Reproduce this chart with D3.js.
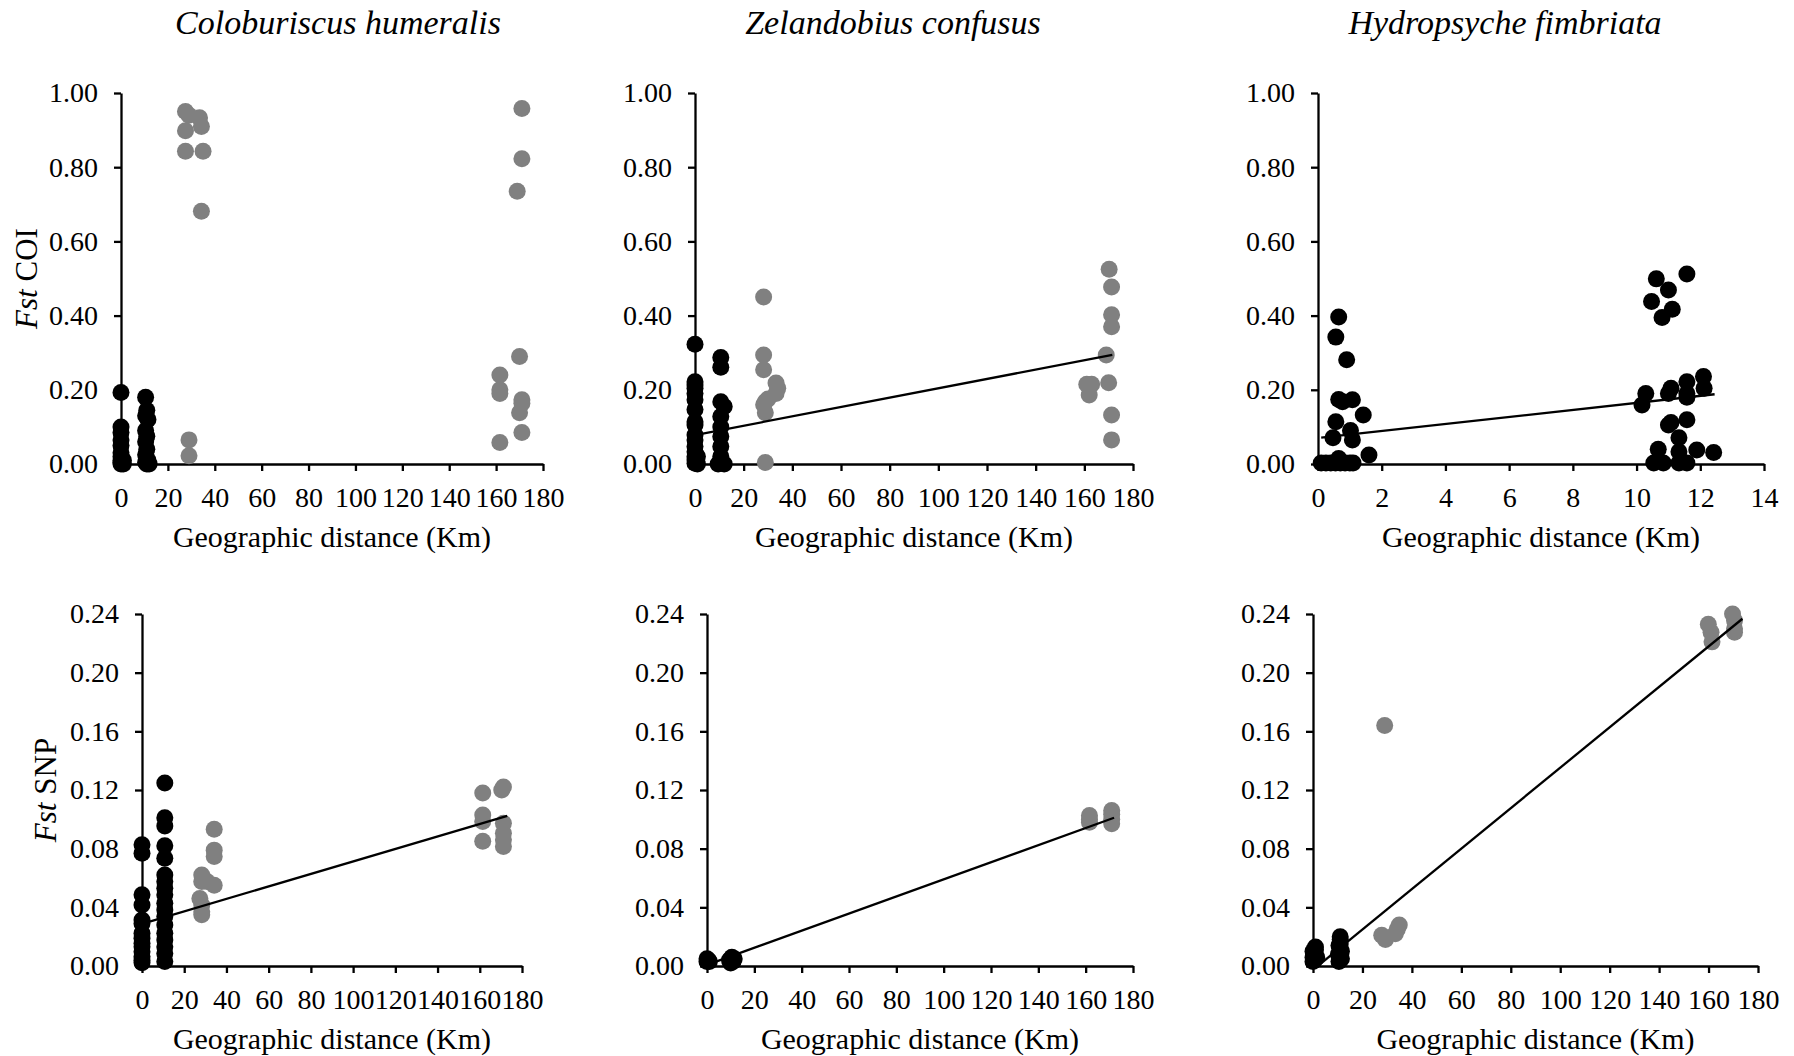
<!DOCTYPE html>
<html>
<head>
<meta charset="utf-8">
<script src="https://cdn.jsdelivr.net/npm/d3@7"></script>
<style>
  body { margin: 0; background: #fff; }
  svg { display: block; }
  text { font-family: "Liberation Serif", "Times New Roman", serif; fill: #000; }
</style>
</head>
<body>
<svg id="chart" width="1794" height="1056"></svg>
<script>
// ---- data ----
const species = ["Coloburiscus humeralis", "Zelandobius confusus", "Hydropsyche fimbriata"];
const xTicksKm = [0, 20, 40, 60, 80, 100, 120, 140, 160, 180];
const xTicksHyd = [0, 2, 4, 6, 8, 10, 12, 14];
const yTicksCOI = [0, 0.2, 0.4, 0.6, 0.8, 1.0];
const yTicksSNP = [0, 0.04, 0.08, 0.12, 0.16, 0.20, 0.24];

// black = within, grey = between  ([distance, Fst])
const coloCoiBlack = [[0,0.193],[0,0.10],[0,0.085],[0,0.065],[0,0.05],[0,0.03],[0,0.02],[0,0.01],[0,0.005],[0,0.0],[1,0.0],[1,0.01],
  [10.5,0.18],[11,0.145],[10.5,0.13],[11.5,0.12],[10.5,0.09],[11,0.075],[10.5,0.06],[11,0.04],[10.5,0.025],[11.5,0.01],[10.5,0.005],[11,0.0],[12,0.0]];
const coloCoiGrey = [[27.5,0.95],[29,0.94],[33.5,0.933],[34.3,0.91],[27.5,0.898],[27.5,0.843],[35,0.843],[34.3,0.681],[29,0.065],[29,0.022],
  [171,0.958],[171,0.823],[169,0.735],[170,0.29],[161.6,0.24],[161.6,0.2],[161.6,0.19],[171,0.173],[171,0.164],[170,0.138],[171,0.085],[161.6,0.058]];

const zelCoiBlack = [[0,0.323],[0,0.222],[0,0.213],[0,0.204],[0,0.19],[0,0.173],[0,0.147],[0,0.114],[0,0.105],[0,0.078],[0,0.065],[0,0.047],[0,0.033],[0,0.02],[0,0.011],[0,0.002],[1,0.0],[1,0.02],
  [10.6,0.287],[10.6,0.261],[10.6,0.168],[12,0.155],[10.6,0.128],[10.6,0.1],[10.6,0.074],[10.6,0.047],[10.6,0.02],[10.6,0.006],[12,0.0],[9.5,0.0]];
const zelCoiGrey = [[28.2,0.45],[28.2,0.294],[28.2,0.254],[28.9,0.168],[28.2,0.16],[30,0.175],[28.9,0.138],[33.3,0.218],[34,0.204],[33.3,0.19],[28.9,0.004],
  [170.2,0.525],[171.2,0.477],[171.2,0.402],[171.2,0.37],[169,0.294],[170,0.219],[171.2,0.132],[171.2,0.065],[161,0.215],[163,0.215],[162,0.186]];

const hydCoiBlack = [[0.65,0.396],[0.56,0.342],[0.9,0.281],[0.65,0.174],[0.77,0.168],[1.08,0.173],[1.42,0.132],[0.56,0.114],[0.47,0.071],[1.02,0.09],[1.08,0.065],[1.6,0.024],
  [0.1,0.003],[0.25,0.003],[0.4,0.003],[0.55,0.003],[0.7,0.003],[0.85,0.003],[1.0,0.003],[1.1,0.003],[0.65,0.015],
  [11.58,0.512],[10.62,0.499],[11.0,0.469],[10.47,0.438],[11.12,0.417],[10.8,0.395],[12.1,0.236],[11.58,0.222],[11.08,0.204],[10.29,0.19],[11.0,0.19],[11.58,0.19],[11.58,0.18],[12.12,0.204],
  [10.17,0.159],[11.08,0.112],[11.0,0.105],[11.58,0.119],[11.33,0.071],[10.68,0.04],[11.33,0.033],[11.89,0.038],[12.42,0.031],[10.54,0.003],[10.84,0.003],[11.33,0.003],[11.58,0.003]];
const hydCoiGrey = [];

const coloSnpBlack = [[0,0.0826],[0,0.0769],[0,0.0485],[0,0.0416],[0,0.0314],[0,0.029],[0,0.0223],[0,0.019],[0,0.0155],[0,0.0132],[0,0.0098],[0,0.0064],[0,0.004],[0,0.0023],
  [10.8,0.1247],[10.8,0.101],[10.8,0.0955],[10.8,0.082],[10.8,0.0735],[10.8,0.062],[10.8,0.0576],[10.8,0.053],[10.8,0.0485],[10.8,0.0428],[10.8,0.0382],[10.8,0.0337],[10.8,0.028],[10.8,0.0223],[10.8,0.0177],[10.8,0.0132],[10.8,0.0086],[10.8,0.003]];
const coloSnpGrey = [[28.3,0.062],[28.3,0.0576],[27.4,0.046],[28.3,0.0416],[28.3,0.037],[28.3,0.035],[34.2,0.0933],[34.2,0.079],[34.2,0.0746],[34.2,0.055],[30.8,0.0576],
  [161.4,0.118],[161.4,0.103],[161.4,0.0985],[161.4,0.085],[171.2,0.122],[170.4,0.12],[171.2,0.0974],[171.2,0.0905],[171.2,0.086],[171.2,0.0815]];

const zelSnpBlack = [[0,0.003],[0,0.005],[0.5,0.004],[1,0.003],[9.5,0.004],[10.5,0.006],[11,0.003],[11.5,0.005],[10,0.002]];
const zelSnpGrey = [[161.6,0.1026],[161.6,0.098],[161.6,0.1],[171,0.106],[171,0.1035],[171,0.1],[171,0.097]];

const hydSnpBlack = [[0,0.003],[0,0.006],[0.5,0.008],[1,0.011],[1,0.013],[0.5,0.004],[1.5,0.006],[0,0.01],
  [10.5,0.003],[11,0.006],[11,0.009],[11,0.012],[11,0.015],[11,0.018],[11,0.02],[10.5,0.014],[11.5,0.01],[11.5,0.005],[10.3,0.008]];
const hydSnpGrey = [[29,0.164],[27.8,0.021],[29.3,0.018],[33.3,0.022],[34.9,0.028],[34.1,0.025],
  [159.9,0.233],[161,0.2275],[161.4,0.221],[169.7,0.24],[170.5,0.2355],[170.5,0.23],[170.5,0.2275]];

// trend lines: [intercept, slope, xStart, xEnd]
const zelCoiTrend = [0.078, 0.00126, 0, 171.5];
const hydCoiTrend = [0.07, 0.00948, 0.1, 12.45];
const coloSnpTrend = [0.0287, 0.000426, 0, 173];
const zelSnpTrend = [0.0008, 0.000583, 0, 172];
const hydSnpTrend = [-0.0026, 0.001378, 2, 173.7];

// ---- layout ----
const panels = [
  { x0: 121, x1: 543, y0: 464, y1: 93, xMax: 180, xt: xTicksKm, yMax: 1, yt: yTicksCOI, black: coloCoiBlack, grey: coloCoiGrey, trend: null, title: species[0], ylab: "COI", ylx: 37 },
  { x0: 695, x1: 1133, y0: 464, y1: 93, xMax: 180, xt: xTicksKm, yMax: 1, yt: yTicksCOI, black: zelCoiBlack, grey: zelCoiGrey, trend: zelCoiTrend, title: species[1] },
  { x0: 1318, x1: 1764, y0: 464, y1: 93, xMax: 14, xt: xTicksHyd, yMax: 1, yt: yTicksCOI, black: hydCoiBlack, grey: hydCoiGrey, trend: hydCoiTrend, title: species[2] },
  { x0: 142, x1: 522, y0: 966, y1: 614, xMax: 180, xt: xTicksKm, yMax: 0.24, yt: yTicksSNP, black: coloSnpBlack, grey: coloSnpGrey, trend: coloSnpTrend, ylab: "SNP", ylx: 56 },
  { x0: 707, x1: 1133, y0: 966, y1: 614, xMax: 180, xt: xTicksKm, yMax: 0.24, yt: yTicksSNP, black: zelSnpBlack, grey: zelSnpGrey, trend: zelSnpTrend },
  { x0: 1313, x1: 1758, y0: 966, y1: 614, xMax: 180, xt: xTicksKm, yMax: 0.24, yt: yTicksSNP, black: hydSnpBlack, grey: hydSnpGrey, trend: hydSnpTrend }
];
const titleX = [338, 893, 1505];
const dotR = 8.5;

const svg = d3.select("#chart");
svg.append("rect").attr("width", 1794).attr("height", 1056).attr("fill", "#fff");

panels.forEach((p, i) => {
  const x = d3.scaleLinear().domain([0, p.xMax]).range([p.x0, p.x1]);
  const y = d3.scaleLinear().domain([0, p.yMax]).range([p.y0, p.y1]);
  const g = svg.append("g");

  // axes
  const yAxis = g.append("g")
    .attr("transform", `translate(${p.x0},0)`)
    .call(d3.axisLeft(y).tickValues(p.yt).tickFormat(d3.format(".2f")).tickSize(7).tickSizeOuter(0).tickPadding(16));
  const xAxis = g.append("g")
    .attr("transform", `translate(0,${p.y0})`)
    .call(d3.axisBottom(x).tickValues(p.xt).tickFormat(d3.format("d")).tickSize(7).tickSizeOuter(0).tickPadding(16));
  [xAxis, yAxis].forEach(a => {
    a.selectAll("path, line").attr("stroke", "#000").attr("stroke-width", 2.3);
    a.selectAll("text").attr("font-size", 28).attr("font-family", "Liberation Serif, Times New Roman, serif");
  });

  // points: black then grey
  g.append("g").selectAll("circle").data(p.black).join("circle")
    .attr("cx", d => x(d[0])).attr("cy", d => y(d[1])).attr("r", dotR).attr("fill", "#000");
  g.append("g").selectAll("circle").data(p.grey).join("circle")
    .attr("cx", d => x(d[0])).attr("cy", d => y(d[1])).attr("r", dotR).attr("fill", "#808080");

  // trend line
  if (p.trend) {
    const [b, m, xs, xe] = p.trend;
    const line = d3.line().x(d => x(d)).y(d => y(b + m * d));
    g.append("path").datum([xs, xe]).attr("d", line)
      .attr("fill", "none").attr("stroke", "#000").attr("stroke-width", 2.3);
  }

  // x axis title
  g.append("text")
    .attr("x", (p.x0 + p.x1) / 2)
    .attr("y", p.y0 + 83)
    .attr("text-anchor", "middle")
    .attr("font-size", 30)
    .text("Geographic distance (Km)");

  // panel titles (top row)
  if (p.title) {
    g.append("text")
      .attr("x", titleX[i]).attr("y", 34)
      .attr("text-anchor", "middle")
      .attr("font-size", 34)
      .attr("font-style", "italic")
      .text(p.title);
  }

  // y axis title (left column)
  if (p.ylab) {
    const t = g.append("text")
      .attr("transform", `translate(${p.ylx},${(p.y0 + p.y1) / 2}) rotate(-90)`)
      .attr("text-anchor", "middle")
      .attr("font-size", 31);
    t.append("tspan").attr("font-style", "italic").text("Fst");
    t.append("tspan").text(" " + p.ylab);
  }
});
</script>
</body>
</html>
